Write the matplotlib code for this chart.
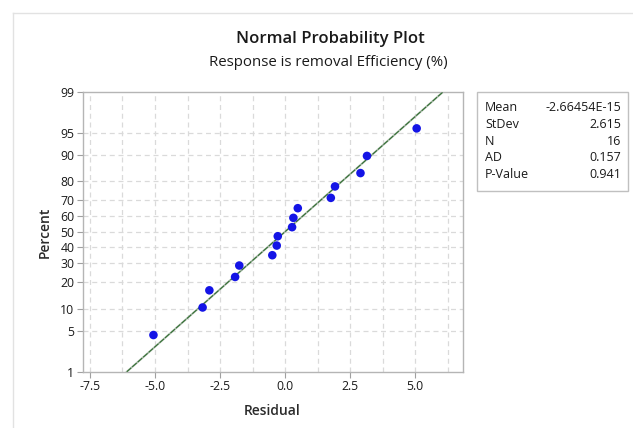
import numpy as np
import matplotlib
matplotlib.use("Agg")
import matplotlib.pyplot as plt
from matplotlib.lines import Line2D
from matplotlib.patches import Rectangle
from statistics import NormalDist

plt.rcParams['font.family'] = ['Open Sans', 'DejaVu Sans']

# data
residuals = [-5.06, -3.17, -2.91, -1.92, -1.76, -0.49, -0.32, -0.28,
             0.27, 0.32, 0.49, 1.76, 1.92, 2.90, 3.15, 5.06]
percents = [4.3, 10.4, 16.5, 22.6, 28.7, 34.8, 40.9, 47.0,
            53.0, 59.1, 65.2, 71.3, 77.4, 83.5, 89.6, 95.7]
y_ticks = [1, 5, 10, 20, 30, 40, 50, 60, 70, 80, 90, 95, 99]
x_ticks = [-7.5, -5.0, -2.5, 0.0, 2.5, 5.0]
stat_labels = ["Mean", "StDev", "N", "AD", "P-Value"]
stat_values = ["-2.66454E-15", "2.615", "16", "0.157", "0.941"]
fit_mean = -2.66454e-15
fit_sd = 2.615

_nd = NormalDist()
_vinv = np.vectorize(_nd.inv_cdf, otypes=[float])
_vcdf = np.vectorize(_nd.cdf, otypes=[float])

def fwd(p):
    p = np.asarray(p, dtype=float)
    q = np.clip(p / 100.0, 1e-9, 1 - 1e-9)
    if q.size == 0:
        return q
    return _vinv(q)

def inv(z):
    z = np.asarray(z, dtype=float)
    if z.size == 0:
        return z
    return _vcdf(z) * 100.0

W, H = 633, 428
fig = plt.figure(figsize=(W / 100, H / 100), dpi=100)
L, R, T, B = 82.7, 462.7, 91.7, 371.7
ax = fig.add_axes([L / W, 1 - B / H, (R - L) / W, (B - T) / H])
ax.set_yscale('function', functions=(fwd, inv))
ax.set_ylim(1, 99)
ax.set_xlim(-7.78, 6.83)

# grid
for xv in np.arange(-7.5, 6.3, 1.25):
    ax.axvline(xv, color='#dadada', lw=0.9, ls=(0, (4, 3)), zorder=0)
for yv in y_ticks[1:-1]:
    ax.axhline(yv, color='#dadada', lw=0.9, ls=(0, (4, 3)), zorder=0)

# fit line
pl = np.array([1.0, 99.0])
xl = fit_mean + fit_sd * np.array([_nd.inv_cdf(p / 100) for p in pl])
ax.plot(xl, pl, color='#a8b8a8', lw=1.4, zorder=2)
ax.plot(xl, pl, color='#2a6a2a', lw=0.7, ls=(0, (6, 1.5)), zorder=3)

ax.scatter(residuals, percents, s=38, color='#1414e6', edgecolors='none', zorder=4)

ax.set_yticks(y_ticks)
ax.set_yticklabels([str(v) for v in y_ticks])
ax.yaxis.set_minor_locator(matplotlib.ticker.NullLocator())
ax.set_xticks(x_ticks)
ax.set_xticklabels([f"{v:.1f}" for v in x_ticks])
ax.tick_params(labelsize=8.8, length=4, width=0.8, color='#a0a0a0', pad=2, labelcolor='#1a1a1a')
for s in ax.spines.values():
    s.set_color('#b5b5b5')
    s.set_linewidth(1.0)

fig.text(45 / W, 1 - 232 / H, "Percent", rotation=90, ha='center', va='center',
         fontsize=10, weight='semibold', color='#2a2a2a')
fig.text(272 / W, 1 - 411 / H, "Residual", ha='center', va='center',
         fontsize=10, weight='semibold', color='#2a2a2a')

fig.text(330 / W, 1 - 39 / H, "Normal Probability Plot", ha='center', va='center',
         fontsize=12, weight='semibold', color='#1a1a1a')
fig.text(328 / W, 1 - 62 / H, "Response is removal Efficiency (%)", ha='center', va='center',
         fontsize=10.8, weight='medium', color='#1a1a1a')

# stats box
bx0, bx1, by0, by1 = 477, 628, 92, 191
fig.add_artist(Rectangle((bx0 / W, 1 - by1 / H), (bx1 - bx0) / W, (by1 - by0) / H,
                         transform=fig.transFigure, fill=False, edgecolor='#c0c0c0', lw=1.0))
for i, (lab, val) in enumerate(zip(stat_labels, stat_values)):
    yy = 107.5 + i * 16.8
    fig.text(485 / W, 1 - yy / H, lab, ha='left', va='center', fontsize=9, color='#1a1a1a')
    fig.text(621 / W, 1 - yy / H, val, ha='right', va='center', fontsize=9, color='#1a1a1a')

# outer frame lines
fig.add_artist(Line2D([12.5 / W, 12.5 / W], [0, 1 - 13 / H], transform=fig.transFigure,
                      color='#e2e2e2', lw=1.0))
fig.add_artist(Line2D([12.5 / W, 1], [1 - 13 / H, 1 - 13 / H], transform=fig.transFigure,
                      color='#e2e2e2', lw=1.0))

fig.savefig("out.png", dpi=100)
